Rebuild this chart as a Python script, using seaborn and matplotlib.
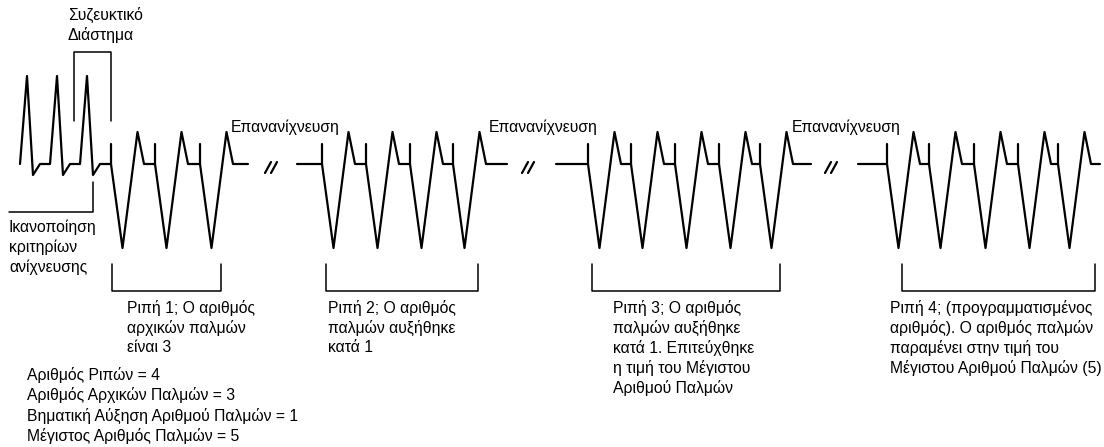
import pandas as pd
import numpy as np
import seaborn as sns
import matplotlib.pyplot as plt

sns.set_theme(style="white")
plt.rcParams['font.family'] = ['Liberation Sans', 'DejaVu Sans']

# intrinsic beats before detection (onset x)
intrinsic_onsets = [20, 50, 80]
# pacing pulses of each burst (onset x)
burst1 = [111, 155, 200]
burst2 = [322, 366, 410, 453]
burst3 = [588, 631, 675, 719, 760]
burst4 = [887, 929, 974, 1018, 1058]
bursts = [burst1, burst2, burst3, burst4]
burst_starts = [111, 297, 556, 858]
burst_ends = [248, 507, 811, 1100]
break_marks = [271, 528, 831]
burst_brackets = [(112, 221), (326, 478), (592, 780), (902, 1095)]

redetect_x = [231, 489, 792]
redetect_label = 'Επανανίχνευση'
coupling_label = ['Συζευκτικό', 'Διάστημα']
criteria_label = ['Ικανοποίηση', 'κριτηρίων', 'ανίχνευσης']
burst_captions = [
    ['Ριπή 1; Ο αριθμός', 'αρχικών παλμών', 'είναι 3'],
    ['Ριπή 2; Ο αριθμός', 'παλμών αυξήθηκε', 'κατά 1'],
    ['Ριπή 3; Ο αριθμός', 'παλμών αυξήθηκε', 'κατά 1. Επιτεύχθηκε',
     'η τιμή του Μέγιστου', 'Αριθμού Παλμών'],
    ['Ριπή 4; (προγραμματισμένος', 'αριθμός). Ο αριθμός παλμών',
     'παραμένει στην τιμή του', 'Μέγιστου Αριθμού Παλμών (5)'],
]
caption_x = [127, 328, 613, 890]
settings = ['Αριθμός Ριπών = 4', 'Αριθμός Αρχικών Παλμών = 3',
            'Βηματική Αύξηση Αριθμού Παλμών = 1', 'Μέγιστος Αριθμός Παλμών = 5']

# waveform levels (pixel rows)
BASE, TICK, PEAK, TROUGH = 164, 144, 132, 248
IPEAK, IDIP = 76, 175

rows = []
def seg(points, sid, kind):
    for x, y in points:
        rows.append({'x': x, 'y': y, 'seg': sid, 'kind': kind})

# intrinsic rhythm + burst 1 as one trace
pts = []
for o in intrinsic_onsets:
    pts += [(o, BASE), (o + 7, IPEAK), (o + 13, IDIP), (o + 20, BASE)]
for b, (start, end) in enumerate(zip(burst_starts, burst_ends)):
    if b > 0:
        pts = [(start, BASE)]
    for o in bursts[b]:
        pts += [(o, BASE), (o + 11.5, TROUGH), (o + 26.5, PEAK), (o + 33, BASE)]
        seg([(o, TICK), (o, BASE)], 'tick%d_%d' % (b, o), 'thick')
    pts.append((end, BASE))
    seg(pts, 'trace%d' % b, 'thick')

# break marks
for i, bx in enumerate(break_marks):
    for dx in (-3, 3):
        seg([(bx + dx - 3, 173), (bx + dx + 3, 162)], 'brk%d_%d' % (i, dx), 'thick')

# brackets
seg([(74, 121), (74, 52), (111, 52), (111, 121)], 'coupling', 'thin')
seg([(9, 212), (93, 212), (93, 182)], 'criteria', 'thin')
for i, (a, b) in enumerate(burst_brackets):
    seg([(a, 264), (a, 291), (b, 291), (b, 264)], 'br%d' % i, 'thin')

df = pd.DataFrame(rows)

fig = plt.figure(figsize=(11.04, 4.47), dpi=100)
ax = fig.add_axes([0, 0, 1, 1])
sns.lineplot(data=df[df.kind == 'thick'], x='x', y='y', units='seg', estimator=None,
             sort=False, color='black', lw=1.6, ax=ax)
sns.lineplot(data=df[df.kind == 'thin'], x='x', y='y', units='seg', estimator=None,
             sort=False, color='black', lw=1.1, ax=ax)
ax.set_xlim(0, 1104)
ax.set_ylim(447, 0)
ax.axis('off')

fs = 11.3
tk = dict(fontsize=fs, color='black', va='center', ha='left')
for i, t in enumerate(coupling_label):
    ax.text(68, 15 + 20 * i, t, **tk)
for i, t in enumerate(criteria_label):
    ax.text(9, 227 + 20 * i, t, **tk)
for x in redetect_x:
    ax.text(x, 127, redetect_label, **tk)
for x, lines in zip(caption_x, burst_captions):
    for i, t in enumerate(lines):
        ax.text(x, 308 + 20 * i, t, **tk)
for i, t in enumerate(settings):
    ax.text(27, 375 + 20.3 * i, t, **tk)

plt.savefig('out.png', dpi=100)
